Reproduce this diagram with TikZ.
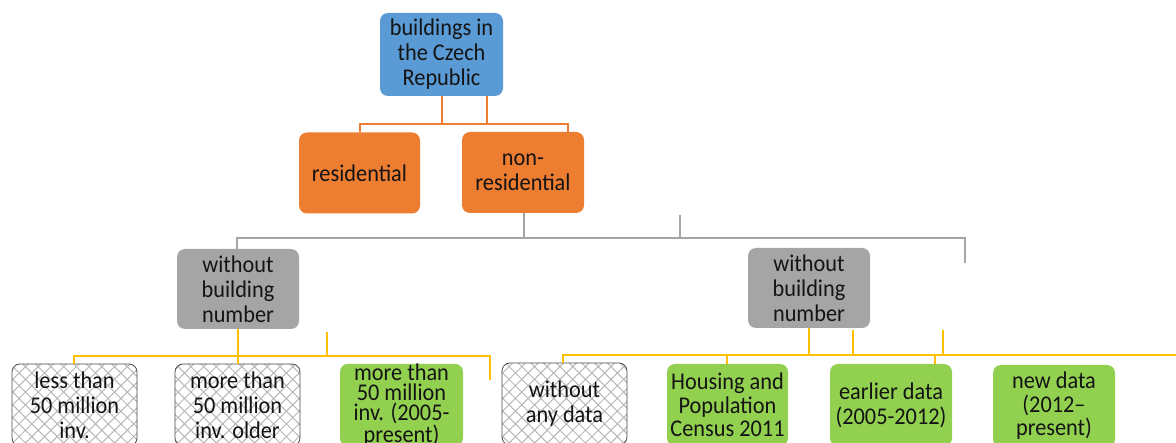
\documentclass[tikz,border=0pt]{standalone}
\usepackage{fontspec}
\setmainfont{Carlito}[FakeStretch=0.93]
\usetikzlibrary{patterns.meta}
\definecolor{cblue}{HTML}{5B9BD5}
\definecolor{corange}{HTML}{ED7D31}
\definecolor{cgray}{HTML}{A5A5A5}
\definecolor{cgreen}{HTML}{92D050}
\definecolor{cyellow}{HTML}{FFC000}
\definecolor{ctext}{HTML}{141414}
\begin{document}
\begin{tikzpicture}[x=1pt,y=-1pt,
  box/.style={rounded corners=8pt, inner sep=0pt, align=center,
    font={\fontsize{24}{25}\selectfont}, text=ctext},
  bluebox/.style={box, fill=cblue, minimum width=123pt, minimum height=83pt},
  orangebox/.style={box, fill=corange, minimum width=121pt, minimum height=81pt},
  graybox/.style={box, fill=cgray, minimum width=122pt, minimum height=80pt},
  greenbox/.style={box, fill=cgreen, minimum height=82pt},
  hatchbox/.style={box, draw=black!70, line width=0.8pt, minimum height=82pt,
    preaction={fill=white},
    preaction={pattern={Lines[angle=45,distance=9pt,line width=1pt]}, pattern color=black!28},
    preaction={pattern={Lines[angle=-45,distance=9pt,line width=1pt]}, pattern color=black!28}},
  oline/.style={draw=corange, line width=2.6pt},
  gline/.style={draw=cgray, line width=2.6pt},
  yline/.style={draw=cyellow, line width=2.6pt}]
\useasboundingbox (0,0) rectangle (1176,443);
\clip (0,0) rectangle (1176,443);

% nodes
\node[bluebox] (top) at (441.5,54.5) {buildings in\\the Czech\\Republic};
\node[orangebox] (res) at (359.5,173) {residential};
\node[orangebox, minimum width=122pt] (nonres) at (523,172.5) {non-\\residential};
\node[graybox] (grayL) at (238,289) {without\\building\\number};
\node[graybox] (grayR) at (809,288) {without\\building\\number};
\node[hatchbox, minimum width=125pt] (b1) at (74.5,405) {less than\\50 million\\inv.};
\node[hatchbox, minimum width=125pt] (b2) at (237.5,405) {more than\\50 million\\inv. older};
\node[greenbox, minimum width=123pt, font={\fontsize{24}{20}\selectfont}] (b3) at (401.5,405) {more than\\50 million\\inv. (2005-\\present)};
\node[hatchbox, minimum width=125pt] (b4) at (564.5,404) {without\\any data};
\node[greenbox, minimum width=121pt, font={\fontsize{24}{23.5}\selectfont}] (b5) at (727.5,405) {Housing and\\Population\\Census 2011};
\node[greenbox, minimum width=122pt] (b6) at (891,405) {earlier data\\(2005-2012)};
\node[greenbox, minimum width=122pt, font={\fontsize{24}{23.5}\selectfont}] (b7) at (1054,406) {new data\\(2012--\\present)};

% junction coordinates
\coordinate (oJ1) at (442,124);
\coordinate (oJ2) at (487,124);
\coordinate (oL) at (360,124);
\coordinate (oR) at (568,124);
\coordinate (gJ) at (524,238);
\coordinate (gL) at (237,238);
\coordinate (gR) at (965,238);
\coordinate (gRend) at (965,263);
\coordinate (gTop) at (680,215);
\coordinate (yA) at (74,356);
\coordinate (yB) at (490,356);
\coordinate (yBend) at (490,380);
\coordinate (yC) at (238,356);
\coordinate (yD) at (327,332);
\coordinate (yE) at (563,355);
\coordinate (yF) at (1180,355);
\coordinate (yG) at (853,330);
\coordinate (yH) at (943,330);
\coordinate (yT1) at (727,355);
\coordinate (yT2) at (935,355);

% orange connectors
\draw[oline] (top.south -| oJ1) -- (oJ1);
\draw[oline] (top.south -| oJ2) -- (oJ2);
\draw[oline] (res.north -| oL) -- (oL) -- (oR) -- (nonres.north -| oR);

% gray connectors
\draw[gline] (nonres.south -| gJ) -- (gJ);
\draw[gline] (grayL.north -| gL) -- (gL) -- (gR) -- (gRend);
\draw[gline] (gTop) -- (gTop |- gJ);

% yellow connectors left
\draw[yline] (b1.north -| yA) -- (yA) -- (yB) -- (yBend);
\draw[yline] (grayL.south -| yC) -- (b2.north -| yC);
\draw[yline] (yD) -- (yD |- yA);

% yellow connectors right
\draw[yline] (b4.north -| yE) -- (yE) -- (yF);
\draw[yline] (grayR.south) -- (grayR.south |- yE);
\draw[yline] (yG) -- (yG |- yE);
\draw[yline] (yH) -- (yH |- yE);
\draw[yline] (yT1) -- (b5.north -| yT1);
\draw[yline] (yT2) -- (b6.north -| yT2);
\end{tikzpicture}
\end{document}
